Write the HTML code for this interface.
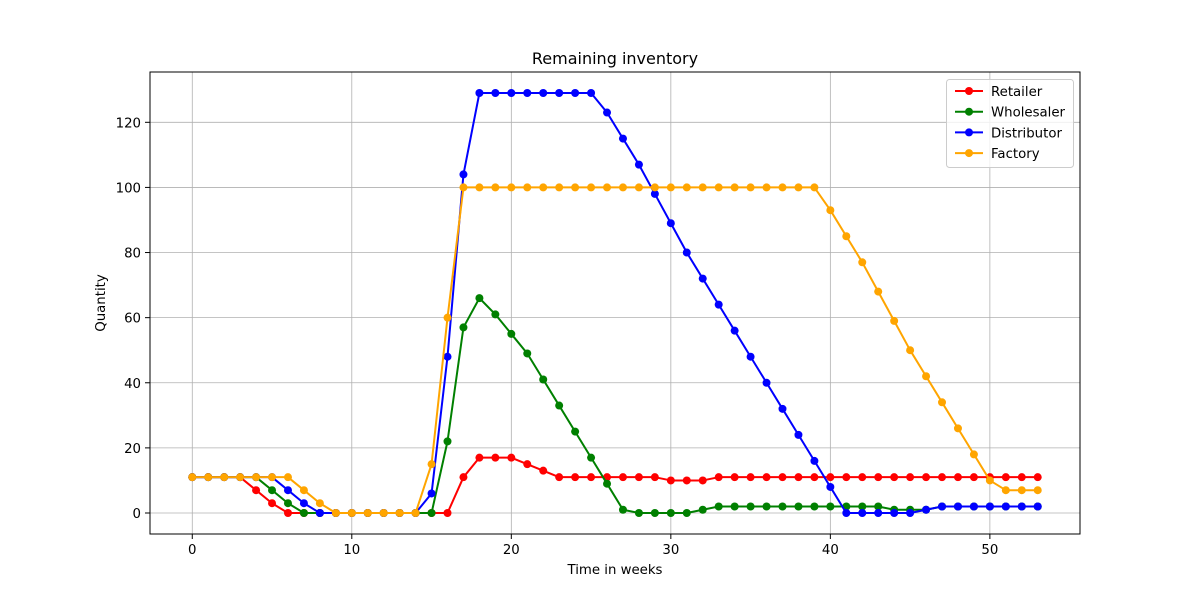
<!DOCTYPE html>
<html><head><meta charset="utf-8"><style>body{margin:0;background:#fff}svg{display:block;font-family:"DejaVu Sans","Liberation Sans",sans-serif}</style></head>
<body>
<svg id="chart" width="1200" height="600"></svg>
<script>
const weeks = Array.from({length:54},(_,i)=>i);
const retailer = [11,11,11,11,7,3,0,0,0,0,0,0,0,0,0,0,0,11,17,17,17,15,13,11,11,11,11,11,11,11,10,10,10,11,11,11,11,11,11,11,11,11,11,11,11,11,11,11,11,11,11,11,11,11];
const wholesaler = [11,11,11,11,11,7,3,0,0,0,0,0,0,0,0,0,22,57,66,61,55,49,41,33,25,17,9,1,0,0,0,0,1,2,2,2,2,2,2,2,2,2,2,2,1,1,1,2,2,2,2,2,2,2];
const distributor = [11,11,11,11,11,11,7,3,0,0,0,0,0,0,0,6,48,104,129,129,129,129,129,129,129,129,123,115,107,98,89,80,72,64,56,48,40,32,24,16,8,0,0,0,0,0,1,2,2,2,2,2,2,2];
const factory = [11,11,11,11,11,11,11,7,3,0,0,0,0,0,0,15,60,100,100,100,100,100,100,100,100,100,100,100,100,100,100,100,100,100,100,100,100,100,100,100,93,85,77,68,59,50,42,34,26,18,10,7,7,7];
const xTicks = [0,10,20,30,40,50];
const yTicks = [0,20,40,60,80,100,120];
const seriesNames = ["Retailer","Wholesaler","Distributor","Factory"];
const seriesColors = ["red","green","blue","orange"];
const seriesData = [retailer, wholesaler, distributor, factory];

const L=150,R=1080,T=72,B=534;
const xmin=-2.65,xmax=55.65,ymin=-6.45,ymax=135.45;
const sx=v=>L+(v-xmin)/(xmax-xmin)*(R-L);
const sy=v=>B-(v-ymin)/(ymax-ymin)*(B-T);
const svg=document.getElementById('chart');
const NS="http://www.w3.org/2000/svg";
function mk(tag,attrs,parent){const e=document.createElementNS(NS,tag);for(const k in attrs)e.setAttribute(k,attrs[k]);(parent||svg).appendChild(e);return e;}

xTicks.forEach(t=>{const l=mk('line',{x1:sx(t),x2:sx(t),y1:T,y2:B,stroke:'#b0b0b0','stroke-width':0.8});

});
yTicks.forEach(t=>{const l=mk('line',{x1:L,x2:R,y1:sy(t),y2:sy(t),stroke:'#b0b0b0','stroke-width':0.8});

});

seriesData.forEach((d,si)=>{
  const g=mk('g',{});
  
  
  const pts=d.map((v,i)=>sx(weeks[i])+','+sy(v)).join(' ');
  mk('polyline',{points:pts,fill:'none',stroke:seriesColors[si],'stroke-width':2,'stroke-linejoin':'round'},g);
  d.forEach((v,i)=>{const c=mk('circle',{cx:sx(weeks[i]),cy:sy(v),r:4,fill:seriesColors[si]},g);
    
    });
});

const fr=mk('rect',{x:L,y:T,width:R-L,height:B-T,fill:'none',stroke:'#000','stroke-width':1});



xTicks.forEach(t=>{mk('line',{x1:sx(t),x2:sx(t),y1:B,y2:B+5,stroke:'#000'});
  const tx=mk('text',{x:sx(t),y:B+20,'font-size':13.3,'text-anchor':'middle'});tx.textContent=t;
  
  });
yTicks.forEach(t=>{mk('line',{x1:L-5,x2:L,y1:sy(t),y2:sy(t),stroke:'#000'});
  const tx=mk('text',{x:L-9,y:sy(t)+5,'font-size':13.3,'text-anchor':'end'});tx.textContent=t;
  
  });

const title=mk('text',{x:(L+R)/2,y:64,'font-size':16,'text-anchor':'middle'});title.textContent='Remaining inventory';


const xl=mk('text',{x:(L+R)/2,y:574,'font-size':13.3,'text-anchor':'middle'});xl.textContent='Time in weeks';


const yl=mk('text',{x:105,y:303,'font-size':13.3,'text-anchor':'middle',transform:'rotate(-90 105 303)'});yl.textContent='Quantity';



const lg=mk('g',{});


mk('rect',{x:946.5,y:79.5,width:127,height:88,rx:3,fill:'#fff','fill-opacity':0.8,stroke:'#ccc'},lg);
seriesNames.forEach((n,i)=>{const y=91+i*20.7;
  const e=mk('g',{},lg);
  
  
  mk('line',{x1:955,x2:983,y1:y,y2:y,stroke:seriesColors[i],'stroke-width':2},e);
  mk('circle',{cx:969,cy:y,r:4,fill:seriesColors[i]},e);
  const t=mk('text',{x:991,y:y+5,'font-size':13.3},e);t.textContent=n;});
</script>
</body></html>
